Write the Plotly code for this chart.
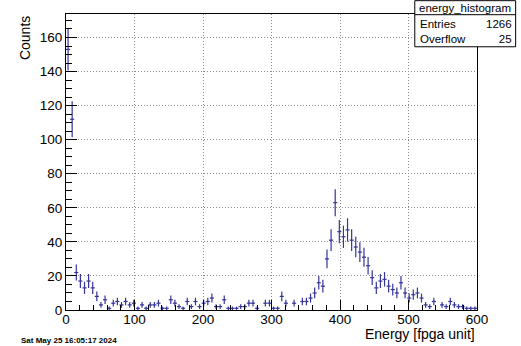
import numpy as np
import plotly.graph_objects as go

# ---- data ----
bin_width = 6
bin_centers = [3 + 6 * k for k in range(100)]
counts = [
    153, 112, 22, 17, 13, 17, 13, 8, 3, 6,
    1, 4, 5, 3, 5, 3, 4, 1, 3, 1,
    3, 3, 4, 1, 1, 6, 4, 2, 1, 5,
    2, 5, 2, 4, 5, 7, 2, 2, 6, 1,
    1, 1, 2, 2, 4, 4, 1, 0, 4, 4,
    1, 1, 8, 4, 0, 4, 0, 5, 5, 7,
    10, 16, 14, 30, 41, 63, 46, 43, 47, 41,
    37, 34, 31, 26, 19, 13, 17, 18, 14, 12,
    10, 16, 10, 7, 9, 10, 7, 3, 2, 5,
    0, 3, 2, 5, 3, 2, 2, 1, 1, 1,
]
x_ticks = [0, 100, 200, 300, 400, 500, 600]
y_ticks = [0, 20, 40, 60, 80, 100, 120, 140, 160]
stats_title = "energy_histogram"
stats_labels = ["Entries", "Overflow"]
stats_values = ["1266", "25"]
x_title = "Energy [fpga unit]"
y_title = "Counts"
timestamp = "Sat May 25 16:05:17 2024"

# ---- geometry ----
W, H = 521, 346
L, R, T, B = 65.7, 477.3, 14.3, 309.7

def px2x(px):
    return (px - L) / (R - L)

def px2y(py):
    return (B - py) / (B - T)

xs = [c for c, n in zip(bin_centers, counts) if n > 0]
ys = [n for n in counts if n > 0]
errs = [float(np.sqrt(n)) for n in ys]

col = "#35359a"
fig = go.Figure()
fig.add_trace(go.Scatter(
    x=xs, y=ys, mode="markers",
    marker=dict(size=1, color=col),
    error_y=dict(type="data", array=errs, visible=True, width=0, thickness=1.2, color=col),
    error_x=dict(type="constant", value=bin_width / 2, visible=True, width=0, thickness=1.2, color=col),
    showlegend=False, hoverinfo="x+y",
))

font = "Liberation Sans, Arial, Helvetica, sans-serif"
grid = dict(showgrid=True, gridcolor="#8c8c8c", griddash="1px,2px", gridwidth=1, zeroline=False)
fig.update_layout(
    width=W, height=H, autosize=False,
    margin=dict(l=L, r=W - R, t=T, b=H - B, pad=0),
    paper_bgcolor="white", plot_bgcolor="white",
    font=dict(family=font, size=13, color="black"),
    xaxis=dict(
        range=[0, 600], tickvals=x_ticks, ticks="inside", ticklen=10, tickcolor="black",
        showline=True, linecolor="black", linewidth=1, mirror=True,
        minor=dict(dtick=20, ticks="inside", ticklen=5, tickcolor="black", showgrid=False),
        tickfont=dict(size=13.5, family=font), ticklabelstandoff=-3, **grid,
    ),
    yaxis=dict(
        range=[0, 173.8], tickvals=y_ticks, ticks="inside", ticklen=11, tickcolor="black",
        showline=True, linecolor="black", linewidth=1, mirror=True,
        minor=dict(dtick=5, ticks="inside", ticklen=6, tickcolor="black", showgrid=False),
        tickfont=dict(size=13.5, family=font), **grid,
    ),
)

annotations = [
    dict(text=x_title, x=px2x(477), y=px2y(334), xref="paper", yref="paper",
         xanchor="right", yanchor="middle", showarrow=False, font=dict(size=14, family=font)),
    dict(text=y_title, x=px2x(24), y=px2y(14), xref="paper", yref="paper",
         xanchor="center", yanchor="top", textangle=-90, showarrow=False, font=dict(size=14, family=font)),
    dict(text="<b>" + timestamp + "</b>", x=px2x(19), y=px2y(340), xref="paper", yref="paper",
         xanchor="left", yanchor="middle", showarrow=False, font=dict(size=8, family=font)),
]

# stats box
bx0, bx1, by0, by1, bsep = 415, 516, 1, 47, 15
shapes = [
    dict(type="rect", xref="paper", yref="paper", x0=px2x(bx0), x1=px2x(bx1), y0=px2y(by1), y1=px2y(by0),
         line=dict(color="black", width=1), fillcolor="white", layer="above"),
    dict(type="line", xref="paper", yref="paper", x0=px2x(bx0), x1=px2x(bx1), y0=px2y(bsep), y1=px2y(bsep),
         line=dict(color="black", width=1), layer="above"),
]
sfont = dict(size=11.5, family=font)
annotations.append(dict(text=stats_title, x=px2x((bx0 + bx1) / 2), y=px2y(8), xref="paper", yref="paper",
                        xanchor="center", yanchor="middle", showarrow=False, font=sfont, borderpad=0))
annotations.append(dict(text="<br>".join(stats_labels), x=px2x(419), y=px2y(31.5), xref="paper", yref="paper",
                        xanchor="left", yanchor="middle", align="left", showarrow=False, font=sfont, borderpad=0))
annotations.append(dict(text="<br>".join(stats_values), x=px2x(513), y=px2y(31.5), xref="paper", yref="paper",
                        xanchor="right", yanchor="middle", align="right", showarrow=False, font=sfont, borderpad=0))

fig.update_layout(shapes=shapes, annotations=annotations)
fig.write_html("out.html", config={"displayModeBar": False},
               post_script="document.body.style.margin='0';document.body.style.overflow='hidden';")
